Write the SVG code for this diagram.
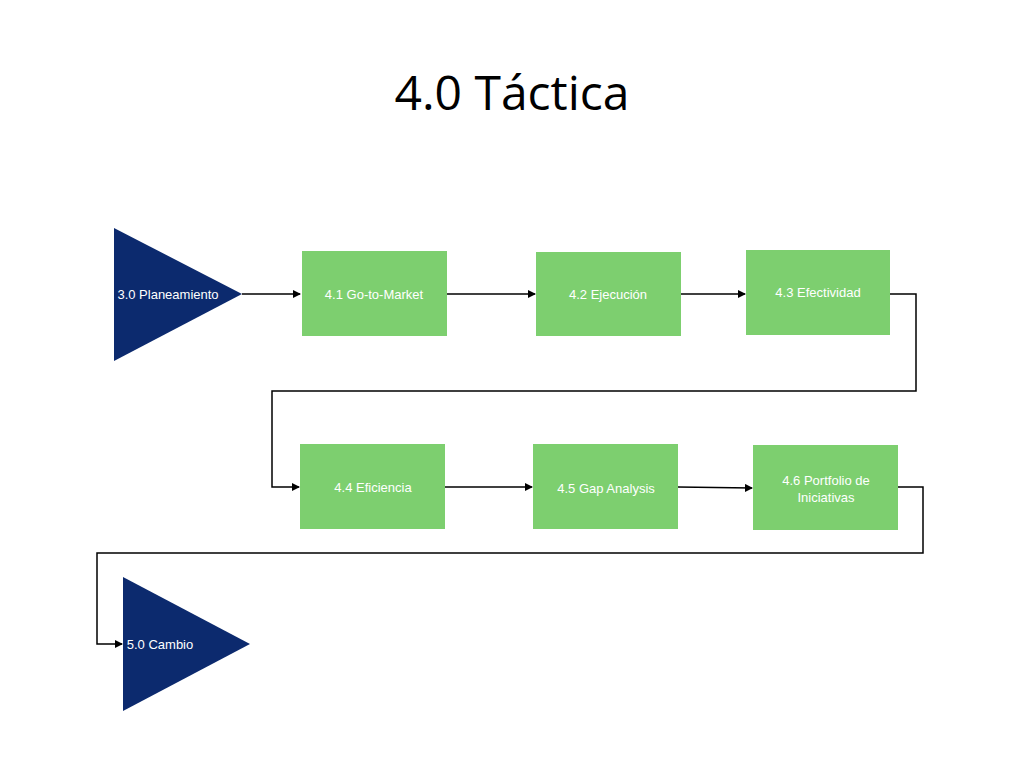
<svg xmlns="http://www.w3.org/2000/svg" width="1024" height="768" viewBox="0 0 1024 768">
<style>
.b{fill:#7dcf6f}
.t{font-family:"Liberation Sans",Arial,sans-serif;font-size:13px;fill:#fff;text-anchor:middle}
.tri{fill:#0c2a6e}
.c{fill:none;stroke:#000;stroke-width:1.5;marker-end:url(#a)}
</style>
<defs><marker id="a" markerWidth="8" markerHeight="8" refX="7" refY="4" orient="auto" markerUnits="userSpaceOnUse"><path d="M0,0L8,4L0,8z" fill="#000"/></marker></defs>
<rect width="1024" height="768" fill="#fff"/>
<text x="512" y="110" font-family="'Open Sans','Liberation Sans',sans-serif" font-size="48" text-anchor="middle" fill="#000">4.0 Táctica</text>
<g id="connectors">
<path class="c" d="M242,294H300"/>
<path class="c" d="M447,294H535"/>
<path class="c" d="M681,294H745"/>
<path class="c" d="M890,294H916V391H272V487H299"/>
<path class="c" d="M445,487H532"/>
<path class="c" d="M678,487L752,488"/>
<path class="c" d="M898,487H923V553H97V644H122"/>
</g>
<g id="n30"><polygon class="tri" points="114,228 242,294 114,361"/><text class="t" x="168" y="299">3.0 Planeamiento</text></g>
<g id="n41"><rect class="b" x="302" y="251" width="145" height="85"/><text class="t" x="374" y="299">4.1 Go-to-Market</text></g>
<g id="n42"><rect class="b" x="536" y="252" width="145" height="84"/><text class="t" x="608" y="299">4.2 Ejecución</text></g>
<g id="n43"><rect class="b" x="746" y="250" width="144" height="85"/><text class="t" x="818" y="297">4.3 Efectividad</text></g>
<g id="n44"><rect class="b" x="300" y="444" width="145" height="85"/><text class="t" x="373" y="492">4.4 Eficiencia</text></g>
<g id="n45"><rect class="b" x="533" y="444" width="145" height="85"/><text class="t" x="606" y="493">4.5 Gap Analysis</text></g>
<g id="n46"><rect class="b" x="753" y="445" width="145" height="85"/><text class="t" x="826" y="485">4.6 Portfolio de</text><text class="t" x="826" y="502">Iniciativas</text></g>
<g id="n50"><polygon class="tri" points="123,577 250,644 123,711"/><text class="t" x="160" y="649">5.0 Cambio</text></g>
</svg>
